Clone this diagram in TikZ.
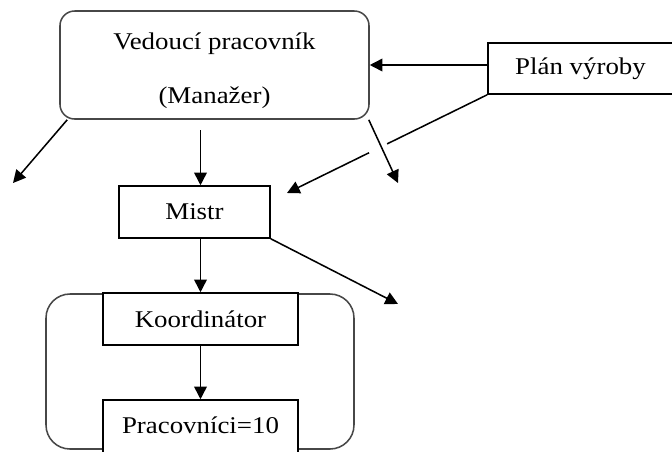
\documentclass[tikz,border=0pt]{standalone}
\usepackage{fontspec}
\setmainfont{Liberation Serif}[FakeStretch=1.12]
\usetikzlibrary{arrows.meta,calc}
\tikzset{
  conn/.style={line width=1.15pt, draw=black},
  arr/.style={conn, -{Triangle[length=9.5pt,width=9.5pt]}},
  sqbox/.style={draw=black, line width=1.15pt, fill=white, inner sep=0pt, font=\fontsize{18}{21.6}\selectfont},
  rbox/.style={draw=black!72, line width=1.15pt, fill=white, inner sep=0pt},
  lbl/.style={font=\fontsize{18}{21.6}\selectfont, inner sep=0pt, align=center}
}
\begin{document}
\begin{tikzpicture}[x=0.75pt,y=-0.75pt]
\useasboundingbox (0,0) rectangle (672,451);
% group container
\node[rbox, rounded corners=18pt, minimum width=231pt, minimum height=116.25pt] (grp) at (200,371.5) {};
% manager
\node[rbox, rounded corners=11pt, minimum width=231.75pt, minimum height=81pt,
  label={[lbl, yshift=-4pt]center:Vedoucí pracovník\\[18.9pt](Manažer)}] (mgr) at (214.5,65) {};
% plan
\node[sqbox, minimum width=138.75pt, minimum height=38.25pt] (plan) at (580.5,68.5) {Plán výroby};
% mistr
\node[sqbox, minimum width=113.25pt, minimum height=39pt] (mistr) at (194.5,212) {Mistr};
% koordinator
\node[sqbox, minimum width=146.25pt, minimum height=39pt] (koord) at (200.5,319) {Koordinátor};
% pracovnici
\node[sqbox, minimum width=146.25pt, minimum height=45pt,
  label={[lbl, yshift=3.9pt]center:Pracovníci=10}] (prac) at (200.5,430) {};
% free ends
\coordinate (outL) at (13,183);
\coordinate (outR) at (398,183);
\coordinate (inM) at (287,193);
\coordinate (outM) at (398,304);
% connectors
\draw[arr] (plan.west |- mgr.east) -- (mgr.east);
\draw[arr, shorten <=8pt] (mgr.south -| koord.north) -- (mistr.north -| koord.north);
\draw[arr] (mistr.south -| koord.north) -- (koord.north);
\draw[arr] (koord.south) -- (prac.north);
\draw[arr] ([xshift=6pt]mgr.south west) -- (outL);
\draw[arr] ([xshift=-0.75pt]mgr.south east) -- (outR);
\draw[conn] (plan.south west) -- ($(plan.south west)!0.5!(inM)$);
\draw[arr] ($(plan.south west)!0.59!(inM)$) -- (inM);
\draw[arr] (mistr.south east) -- (outM);
\end{tikzpicture}
\end{document}
